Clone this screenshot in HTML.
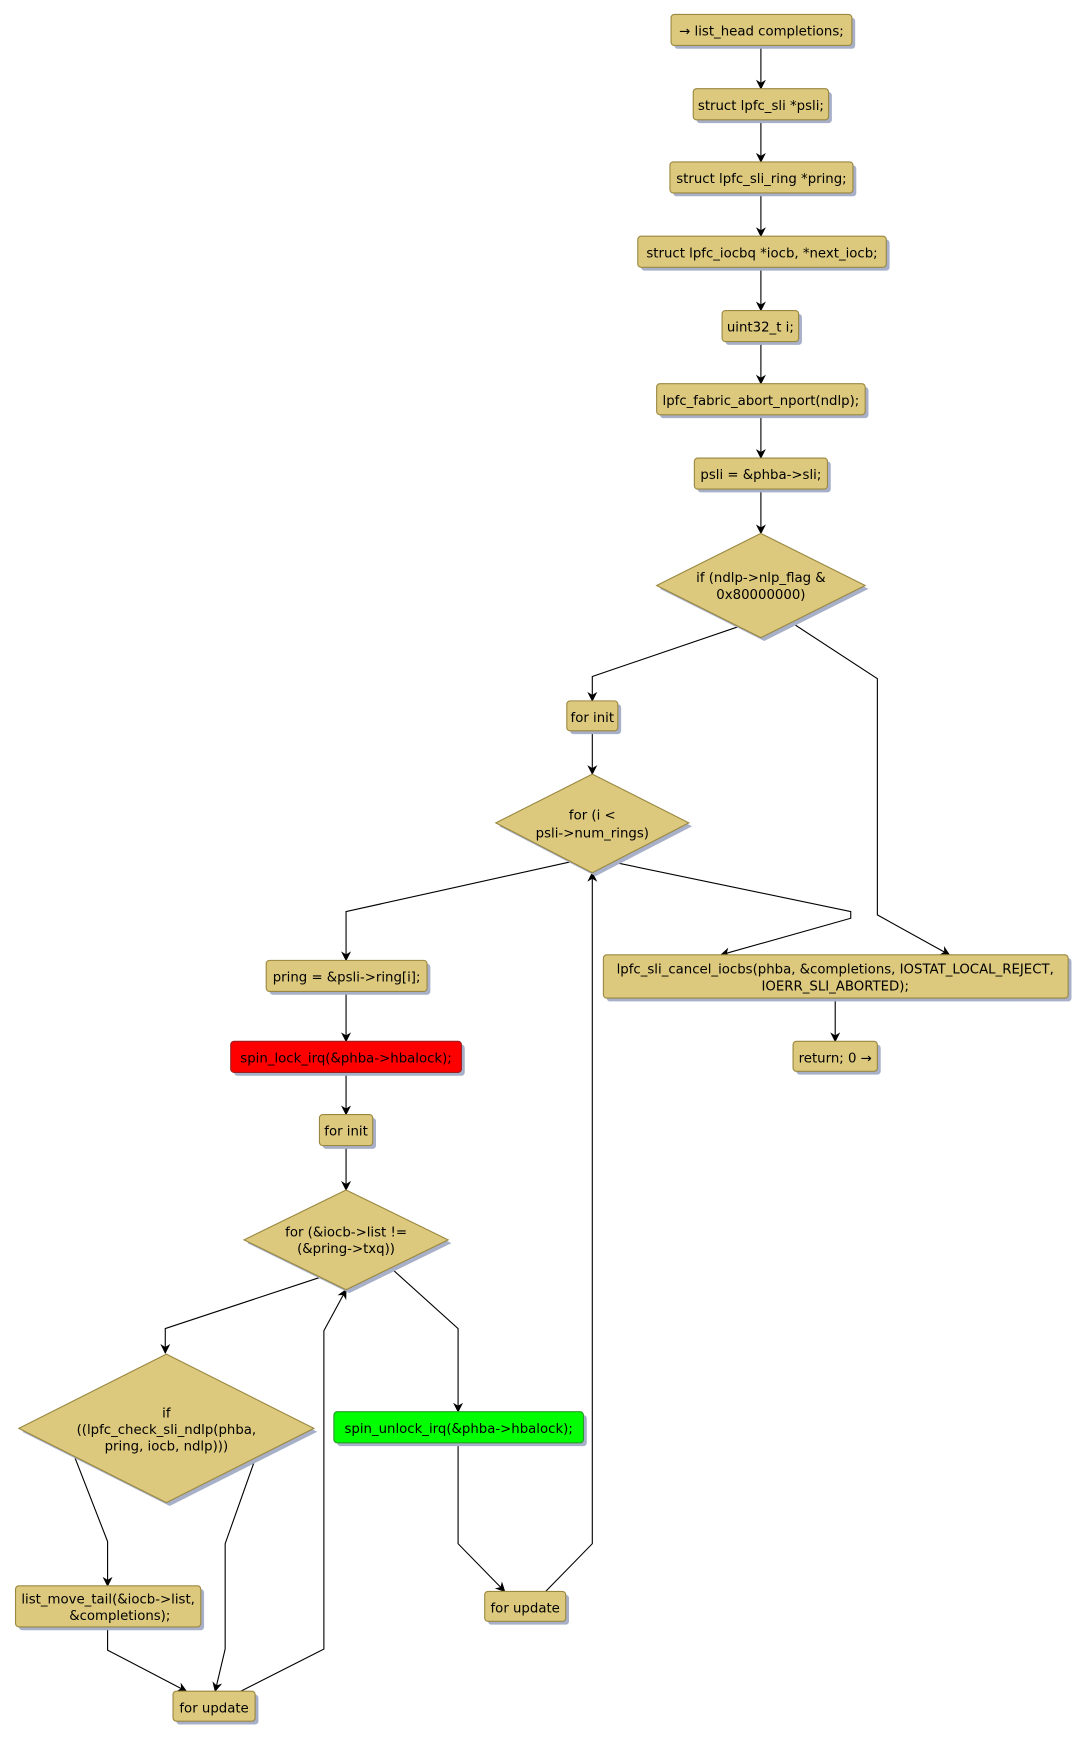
<!DOCTYPE html>
<html><head><meta charset="utf-8"><style>
html,body{margin:0;padding:0;background:#fff;}
svg{display:block;}
text{font-family:"DejaVu Sans","Liberation Sans",sans-serif;font-size:12px;fill:#000;}
.b{fill:#dcc97e;stroke:#9a8840;stroke-width:1;}
.s{fill:#a7b0c8;}
.e{fill:none;stroke:#000;stroke-width:1;}
</style></head><body>
<svg width="1087" height="1740" viewBox="0 0 980 1569" preserveAspectRatio="none" xmlns="http://www.w3.org/2000/svg">
<defs><marker id="a" viewBox="0 0 10 10" refX="9" refY="5" markerWidth="9" markerHeight="9" orient="auto" markerUnits="userSpaceOnUse"><path d="M0,0 L10,5 L0,10 L3,5 z" fill="#000"/></marker></defs>

<g class="e" marker-end="url(#a)">
<path d="M686,41 V80"/>
<path d="M686,108 V146"/>
<path d="M686,174 V213"/>
<path d="M686,241 V280"/>
<path d="M686,308 V346"/>
<path d="M686,374 V413"/>
<path d="M686,441 V481"/>
<path d="M666,565 L534,610 V632"/>
<path d="M713,561 L791,612 V825 L856,861"/>
<path d="M534,659 V698"/>
<path d="M515,777 L312,822 V866"/>
<path d="M551,777 L767,822 V828 L650,861"/>
<path d="M492,1435 L534,1392 V787"/>
<path d="M753,900 V939"/>
<path d="M312,894 V939"/>
<path d="M312,967 V1005"/>
<path d="M312,1033 V1073"/>
<path d="M288,1152 L149,1198 V1220"/>
<path d="M352,1143 L413,1198 V1273"/>
<path d="M413,1301 V1392 L455,1435"/>
<path d="M67,1313 L97,1390 V1430"/>
<path d="M97,1467 V1488 L168,1525"/>
<path d="M231,1313 L203,1392 V1487 L194,1525"/>
<path d="M217,1525 L292,1487 V1200 L312,1163"/>
</g>

<g class="s">
<rect x="608" y="16" width="163" height="28" rx="3"/>
<rect x="628" y="83" width="122" height="28" rx="3"/>
<rect x="607" y="149" width="165" height="28" rx="3"/>
<rect x="578" y="216" width="224" height="28" rx="3"/>
<rect x="654" y="283" width="69" height="28" rx="3"/>
<rect x="595" y="349" width="188" height="28" rx="3"/>
<rect x="629" y="416" width="120" height="28" rx="3"/>
<polygon points="689,484 783,531 689,578 595,531"/>
<rect x="514" y="635" width="46" height="27" rx="3"/>
<polygon points="537,701 624,745 537,790 450,745"/>
<rect x="547" y="864" width="419" height="39" rx="3"/>
<rect x="718" y="942" width="76" height="27" rx="3"/>
<rect x="243" y="869" width="145" height="28" rx="3"/>
<rect x="211" y="942" width="208" height="28" rx="3"/>
<rect x="291" y="1008" width="48" height="28" rx="3"/>
<polygon points="315,1076 407,1121 315,1166 223,1121"/>
<polygon points="153,1224 286,1291 153,1358 20,1291"/>
<rect x="304" y="1276" width="225" height="28" rx="3"/>
<rect x="440" y="1438" width="73" height="27" rx="3"/>
<rect x="17" y="1433" width="167" height="37" rx="3"/>
<rect x="159" y="1528" width="74" height="27" rx="3"/>
</g>

<rect class="b" x="605" y="13" width="163" height="28" rx="3"/>
<text x="686.5" y="32" text-anchor="middle">→ list_head completions;</text>
<rect class="b" x="625" y="80" width="122" height="28" rx="3"/>
<text x="686" y="99" text-anchor="middle">struct lpfc_sli *psli;</text>
<rect class="b" x="604" y="146" width="165" height="28" rx="3"/>
<text x="686.5" y="165" text-anchor="middle">struct lpfc_sli_ring *pring;</text>
<rect class="b" x="575" y="213" width="224" height="28" rx="3"/>
<text x="687" y="232" text-anchor="middle">struct lpfc_iocbq *iocb, *next_iocb;</text>
<rect class="b" x="651" y="280" width="69" height="28" rx="3"/>
<text x="685.5" y="299" text-anchor="middle">uint32_t i;</text>
<rect class="b" x="592" y="346" width="188" height="28" rx="3"/>
<text x="686" y="365" text-anchor="middle">lpfc_fabric_abort_nport(ndlp);</text>
<rect class="b" x="626" y="413" width="120" height="28" rx="3"/>
<text x="686" y="432" text-anchor="middle">psli = &amp;phba-&gt;sli;</text>

<polygon class="b" points="686,481 780,528 686,575 592,528"/>
<text x="686" y="525" text-anchor="middle">if (ndlp-&gt;nlp_flag &amp;</text>
<text x="686" y="540" text-anchor="middle">0x80000000)</text>

<rect class="b" x="511" y="632" width="46" height="27" rx="3"/>
<text x="534" y="651" text-anchor="middle">for init</text>

<polygon class="b" points="534,698 621,742 534,787 447,742"/>
<text x="534" y="739" text-anchor="middle">for (i &lt;</text>
<text x="534" y="755" text-anchor="middle">psli-&gt;num_rings)</text>

<rect class="b" x="544" y="861" width="419" height="39" rx="3"/>
<text x="753" y="878" text-anchor="middle">lpfc_sli_cancel_iocbs(phba, &amp;completions, IOSTAT_LOCAL_REJECT,</text>
<text x="753" y="893" text-anchor="middle">IOERR_SLI_ABORTED);</text>

<rect class="b" x="715" y="939" width="76" height="27" rx="3"/>
<text x="753" y="958" text-anchor="middle">return; 0 →</text>

<rect class="b" x="240" y="866" width="145" height="28" rx="3"/>
<text x="312.5" y="885" text-anchor="middle">pring = &amp;psli-&gt;ring[i];</text>

<rect x="208" y="939" width="208" height="28" rx="3" fill="#ff0000" stroke="#9a2020"/>
<text x="312" y="958" text-anchor="middle">spin_lock_irq(&amp;phba-&gt;hbalock);</text>

<rect class="b" x="288" y="1005" width="48" height="28" rx="3"/>
<text x="312" y="1024" text-anchor="middle">for init</text>

<polygon class="b" points="312,1073 404,1118 312,1163 220,1118"/>
<text x="312" y="1115" text-anchor="middle">for (&amp;iocb-&gt;list !=</text>
<text x="312" y="1130" text-anchor="middle">(&amp;pring-&gt;txq))</text>

<polygon class="b" points="150,1221 283,1288 150,1355 17,1288"/>
<text x="150" y="1278" text-anchor="middle">if</text>
<text x="150" y="1293" text-anchor="middle">((lpfc_check_sli_ndlp(phba,</text>
<text x="150" y="1308" text-anchor="middle">pring, iocb, ndlp)))</text>

<rect x="301" y="1273" width="225" height="28" rx="3" fill="#00ff00" stroke="#2a9a2a"/>
<text x="413.5" y="1292" text-anchor="middle">spin_unlock_irq(&amp;phba-&gt;hbalock);</text>

<rect class="b" x="437" y="1435" width="73" height="27" rx="3"/>
<text x="473.5" y="1454" text-anchor="middle">for update</text>

<rect class="b" x="14" y="1430" width="167" height="37" rx="3"/>
<text x="97.5" y="1446" text-anchor="middle">list_move_tail(&amp;iocb-&gt;list,</text>
<text x="108" y="1461" text-anchor="middle">&amp;completions);</text>

<rect class="b" x="156" y="1525" width="74" height="27" rx="3"/>
<text x="193" y="1544" text-anchor="middle">for update</text>
</svg>
</body></html>
